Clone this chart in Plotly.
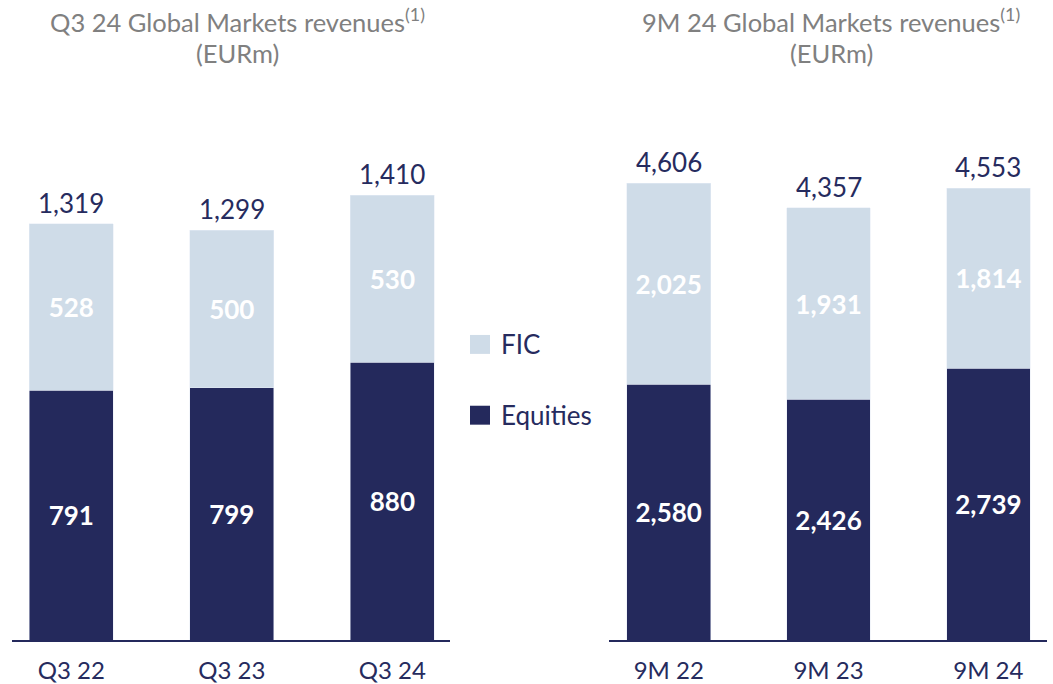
import plotly.graph_objects as go

# ---- data ----
q_categories = ["Q3 22", "Q3 23", "Q3 24"]
q_equities = [791, 799, 880]
q_fic = [528, 500, 530]
q_totals = [1319, 1299, 1410]

m_categories = ["9M 22", "9M 23", "9M 24"]
m_equities = [2580, 2426, 2739]
m_fic = [2025, 1931, 1814]
m_totals = [4606, 4357, 4553]

series_names = ["Equities", "FIC"]
titles_left = ["Q3 24 Global Markets revenues<sup>(1)</sup>", "(EURm)"]
titles_right = ["9M 24 Global Markets revenues<sup>(1)</sup>", "(EURm)"]

# ---- style ----
NAVY = "#24295C"
LIGHT = "#CFDCE8"
TXT = "#262B5E"
GREY = "#808080"
FONT = "Lato"
W, H = 1053, 684
MB = 42
PH = H - MB  # plot height in px

fig = go.Figure()

def add_panel(cats, eq, fic, tot, xa, ya):
    for vals, name, col in ((eq, series_names[0], NAVY), (fic, series_names[1], LIGHT)):
        fig.add_trace(go.Bar(x=cats, y=vals, name=name, marker_color=col,
                             width=0.523, xaxis=xa, yaxis=ya,
                             texttemplate="%{y:,}", textposition="inside",
                             insidetextanchor="middle", constraintext="none",
                             textfont=dict(family=FONT, size=26, color="white", weight="bold"),
                             showlegend=False, hoverinfo="skip"))
    for c, v in zip(cats, tot):
        fig.add_annotation(x=c, y=v, xref=xa, yref=ya, text=f"{v:,}", showarrow=False,
                           xanchor="center", yanchor="bottom", yshift=3,
                           font=dict(family=FONT, size=26, color=TXT))

add_panel(q_categories, q_equities, q_fic, q_totals, "x", "y")
add_panel(m_categories, m_equities, m_fic, m_totals, "x2", "y2")

xcommon = dict(type="category", showline=True, linecolor=NAVY, linewidth=2,
               showgrid=False, zeroline=False, ticks="outside", ticklen=8,
               tickcolor="rgba(0,0,0,0)", tickfont=dict(family=FONT, size=24, color=TXT),
               fixedrange=True)
fig.update_layout(
    width=W, height=H,
    margin=dict(l=0, r=0, t=0, b=MB),
    paper_bgcolor="white", plot_bgcolor="white",
    barmode="stack",
    xaxis=dict(domain=[11.7 / W, 450 / W], range=[-0.371, 2.359], **xcommon),
    xaxis2=dict(domain=[609.3 / W, 1047.3 / W], range=[-0.372, 2.369], **xcommon),
    yaxis=dict(visible=False, range=[0, PH / 0.3165], anchor="x", fixedrange=True),
    yaxis2=dict(visible=False, range=[0, PH / 0.0995], anchor="x2", fixedrange=True),
    showlegend=False,
)

def py(p):
    return 1 - p / PH

# titles
for cx, lines in ((237, titles_left), (831, titles_right)):
    for i, t in enumerate(lines):
        fig.add_annotation(x=cx / W, y=py(20 + 33 * i), xref="paper", yref="paper",
                           text=t, showarrow=False, xanchor="center", yanchor="middle",
                           font=dict(family=FONT, size=25.5, color=GREY))

# legend (FIC on top, Equities below)
for i, (name, col) in enumerate(((series_names[1], LIGHT), (series_names[0], NAVY))):
    cy = 345.5 + 71 * i
    fig.add_shape(type="rect", xref="paper", yref="paper",
                  x0=470 / W, x1=490 / W, y0=py(cy - 9.5), y1=py(cy + 9.5),
                  fillcolor=col, line_width=0)
    fig.add_annotation(x=499 / W, y=py(cy), xref="paper", yref="paper", text=name,
                       showarrow=False, xanchor="left", yanchor="middle",
                       font=dict(family=FONT, size=26, color=TXT))

fig.write_html("out.html", config={"displayModeBar": False},
               post_script="document.body.style.margin='0';")
